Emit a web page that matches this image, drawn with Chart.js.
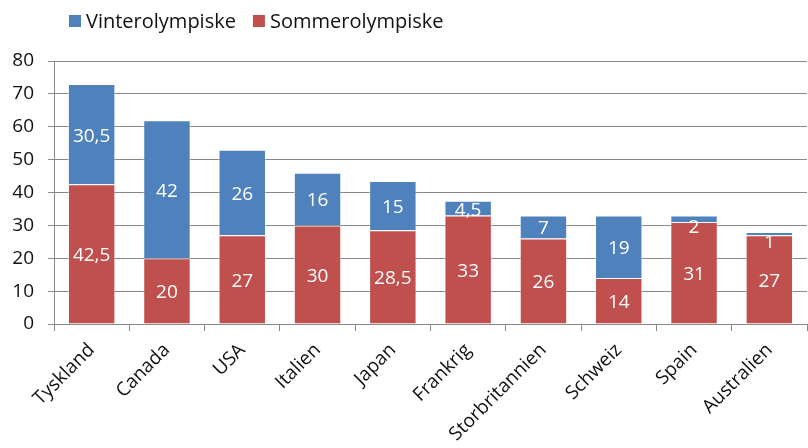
<!DOCTYPE html>
<html><head><meta charset="utf-8">
<script src="https://cdn.jsdelivr.net/npm/chart.js@4"></script>
<style>html,body{margin:0;padding:0;background:#fff}#wrap{width:808px;height:448px}</style>
</head><body><div id="wrap"><canvas id="c"></canvas></div>
<script>
const categories = ["Tyskland","Canada","USA","Italien","Japan","Frankrig","Storbritannien","Schweiz","Spain","Australien"];
const sommer = [42.5,20,27,30,28.5,33,26,14,31,27];
const vinter = [30.5,42,26,16,15,4.5,7,19,2,1];
const yTicks = [0,10,20,30,40,50,60,70,80];
const FONT = "'Open Sans', 'Lato', sans-serif";
const BLUE = '#4F81BD', RED = '#C0504D';

const labelPlugin = {
  id: 'segLabels',
  afterDatasetsDraw(chart) {
    const ctx = chart.ctx;
    ctx.save();
    ctx.fillStyle = '#fff';
    ctx.font = '19px ' + FONT;
    ctx.textAlign = 'center';
    ctx.textBaseline = 'middle';
    chart.data.datasets.forEach((ds, di) => {
      const meta = chart.getDatasetMeta(di);
      meta.data.forEach((bar, i) => {
        const v = ds.data[i];
        const p = bar.getProps(['x','y','base'], true);
        let cy = (p.y + p.base) / 2 + 2;
        if (Math.abs(p.base - p.y) < 10) cy += 7;
        ctx.fillText(String(v).replace('.', ','), p.x, cy);
      });
    });
    ctx.restore();
  }
};

const legendPlugin = {
  id: 'customLegend',
  afterDraw(chart) {
    const ctx = chart.ctx;
    ctx.save();
    ctx.font = '20px ' + FONT;
    ctx.textBaseline = 'middle';
    const items = [[chart.data.datasets[1].label, BLUE], [chart.data.datasets[0].label, RED]];
    let x = 69;
    const cy = 21;
    items.forEach(([t, c]) => {
      ctx.fillStyle = c;
      ctx.fillRect(x, cy - 6, 12, 12);
      ctx.fillStyle = '#111';
      ctx.fillText(t, x + 17, cy + 1);
      x += 17 + ctx.measureText(t).width + 17;
    });
    ctx.restore();
  }
};

new Chart(document.getElementById('c'), {
  type: 'bar',
  data: {
    labels: categories,
    datasets: [
      {label: 'Sommerolympiske', data: sommer, backgroundColor: RED, borderColor: 'rgba(255,255,255,0.5)', borderWidth: 1,
       categoryPercentage: 1, barPercentage: 0.63},
      {label: 'Vinterolympiske', data: vinter, backgroundColor: BLUE, borderColor: 'rgba(255,255,255,0.5)', borderWidth: 1,
       categoryPercentage: 1, barPercentage: 0.63}
    ]
  },
  options: {
    responsive: true, maintainAspectRatio: false, animation: false,
    layout: {padding: {left: 0, right: 1, top: 61, bottom: 0}},
    plugins: {
      legend: {display: false},
      tooltip: {enabled: false}
    },
    scales: {
      x: {
        stacked: true,
        grid: {display: true, drawOnChartArea: false, offset: true, color: '#888', tickLength: 7},
        border: {color: '#888'},
        ticks: {maxRotation: 45, minRotation: 45, color: '#111', padding: 8, font: {size: 19, family: FONT}},
        afterFit(s) { s.height = 124; }
      },
      y: {
        stacked: true, min: 0, max: 80,
        afterBuildTicks(s) { s.ticks = yTicks.map(v => ({value: v})); },
        grid: {color: '#888', tickLength: 6},
        border: {color: '#888'},
        ticks: {color: '#111', padding: 14, font: {size: 19, family: FONT}},
        afterFit(s) { s.width = 54; }
      }
    }
  },
  plugins: [labelPlugin, legendPlugin]
});
</script></body></html>
